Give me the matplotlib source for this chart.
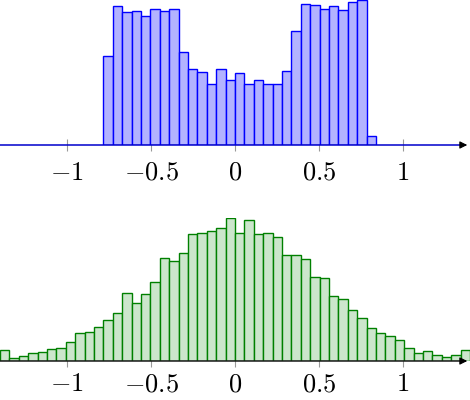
import matplotlib
matplotlib.use("Agg")
import matplotlib.pyplot as plt
import numpy as np

plt.rcParams['mathtext.fontset'] = 'cm'

# shared bin layout: 50 bins over [-1.4, 1.4]
x_min = -1.4
x_max = 1.4
n_bins = 50

# top histogram (blue) occupies bins 11..39
top_first_bin = 11
top_counts = [89, 138.7, 133.4, 134, 129.4, 136, 134, 135.7, 92.7, 76,
              72.7, 60.7, 76, 65, 72.4, 61, 64.7, 61, 60.7, 73.7,
              113.7, 141.4, 140, 136.4, 139, 134.7, 143.4, 144.7, 9]

# bottom histogram (green), all 50 bins
bottom_counts = [10.7, 3.3, 5.3, 7.7, 9, 12, 13.3, 19.3, 28.7, 29.3,
                 34.7, 41.3, 48.3, 69, 59, 68.3, 80.3, 104, 101.3, 109.7,
                 128.7, 129.7, 131.7, 135.3, 144.7, 130, 142.7, 128.7, 129.3, 126,
                 107.7, 107.7, 103.7, 85.3, 84, 66.3, 63, 52, 43.3, 33,
                 28.7, 25.3, 21, 13.3, 8, 9.7, 6, 4.3, 5.7, 11.3]

tick_vals = [-1, -0.5, 0, 0.5, 1]
tick_labels = ['$-1$', '$-0.5$', '$0$', '$0.5$', '$1$']

edges = np.linspace(x_min, x_max, n_bins + 1)
width = edges[1] - edges[0]

fig = plt.figure(figsize=(4.7, 4.0), dpi=100)
ax_top = fig.add_axes([0.0, 0.6375, 1.0, 0.3625])
ax_bot = fig.add_axes([0.0, 0.0975, 1.0, 0.3575])


def style_axis(ax, line_color, pad):
    ax.set_xlim(x_min, x_max)
    ax.set_ylim(0, 145)
    for s in ax.spines.values():
        s.set_visible(False)
    ax.set_yticks([])
    ax.set_xticks(tick_vals)
    ax.set_xticklabels(tick_labels, fontsize=19)
    ax.tick_params(axis='x', direction='inout', length=9, width=0.8,
                   color='#999999', pad=pad)
    ax.patch.set_alpha(0)
    ax.plot([x_min, x_max - 0.03], [0, 0], color=line_color, lw=1.1,
            zorder=4, clip_on=False)
    ax.annotate('', xy=(x_max, 0), xytext=(x_max - 0.06, 0),
                arrowprops=dict(arrowstyle='-|>', color='black', lw=0.8,
                                mutation_scale=11),
                annotation_clip=False, zorder=5)


top_left = edges[top_first_bin:top_first_bin + len(top_counts)]
ax_top.bar(top_left, top_counts, width=width, align='edge',
           color='#b3b3ff', edgecolor='#0000ff', linewidth=1.0, zorder=3)
style_axis(ax_top, '#0000cc', 6)

ax_bot.bar(edges[:-1], bottom_counts, width=width, align='edge',
           color='#cce6cc', edgecolor='#008000', linewidth=1.0, zorder=3)
style_axis(ax_bot, '#1a1a1a', 3)

fig.savefig('out.png', dpi=100)
